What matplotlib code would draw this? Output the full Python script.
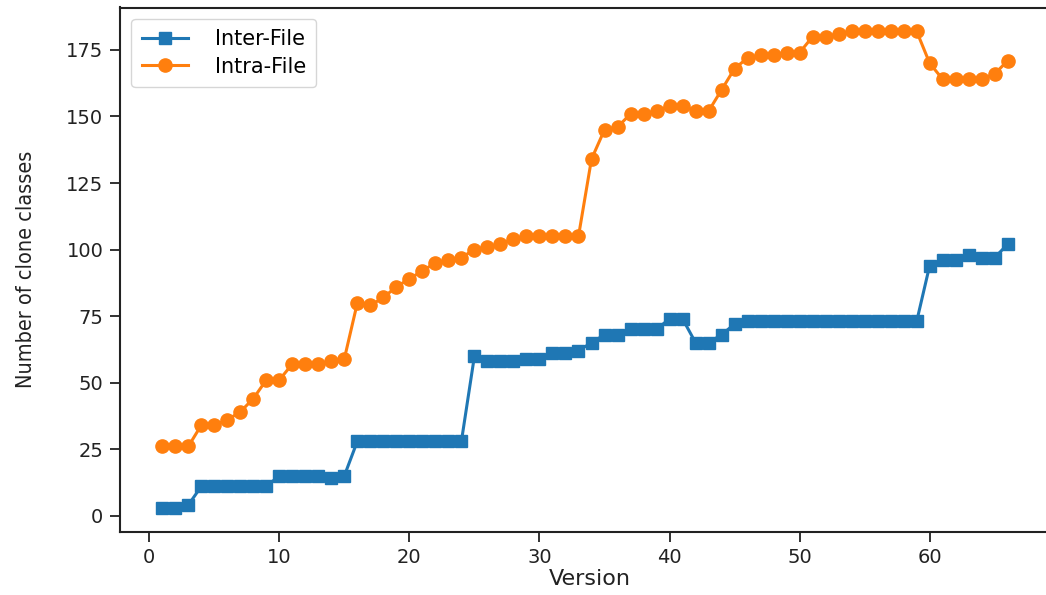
import matplotlib
matplotlib.use('Agg')
import matplotlib.pyplot as plt

# numero de classes de clones por versao
versions = list(range(1, 67))

inter_file = [3, 3, 4, 11, 11, 11, 11, 11, 11, 15,
              15, 15, 15, 14, 15, 28, 28, 28, 28, 28,
              28, 28, 28, 28, 60, 58, 58, 58, 59, 59,
              61, 61, 62, 65, 68, 68, 70, 70, 70, 74,
              74, 65, 65, 68, 72, 73, 73, 73, 73, 73,
              73, 73, 73, 73, 73, 73, 73, 73, 73, 94,
              96, 96, 98, 97, 97, 102]

intra_file = [26, 26, 26, 34, 34, 36, 39, 44, 51, 51,
              57, 57, 57, 58, 59, 80, 79, 82, 86, 89,
              92, 95, 96, 97, 100, 101, 102, 104, 105, 105,
              105, 105, 105, 134, 145, 146, 151, 151, 152, 154,
              154, 152, 152, 160, 168, 172, 173, 173, 174, 174,
              180, 180, 181, 182, 182, 182, 182, 182, 182, 170,
              164, 164, 164, 164, 166, 171]

W, H = 1046, 595
fig = plt.figure(figsize=(W / 100, H / 100), dpi=100)
# eixo vai um pouco alem da borda direita da figura
ax = fig.add_axes([120 / W, (H - 531.5) / H, 940 / W, 524 / H])

ax.plot(versions, inter_file, marker='s', markersize=8.5, linewidth=2.2,
        color='#1f77b4', label='Inter-File')
ax.plot(versions, intra_file, marker='o', markersize=9.5, linewidth=2.2,
        color='#ff7f0e', label='Intra-File')

ax.set_xlim(-2.25, 69.25 + 10 / 13.0)
ax.set_ylim(-5.95, 190.95)
ax.set_xticks([0, 10, 20, 30, 40, 50, 60])
ax.set_yticks([0, 25, 50, 75, 100, 125, 150, 175])

ax.tick_params(axis='both', labelsize=14, length=7, width=1.3, pad=5,
               colors='#222222')
for s in ax.spines.values():
    s.set_linewidth(1.5)
    s.set_color('#222222')
ax.spines['right'].set_visible(False)

ax.set_xlabel('Version', fontsize=16, labelpad=1, color='#222222')
ax.set_ylabel('Number of clone classes', fontsize=15.5, labelpad=22,
              fontstretch='condensed', color='#222222')

ax.legend(loc='upper left', fontsize=15, handlelength=2.2,
          borderpad=0.5, labelspacing=0.35, handletextpad=1.3,
          bbox_to_anchor=(0.0, 1.0), borderaxespad=0.55)

fig.savefig('out.png', dpi=100)
